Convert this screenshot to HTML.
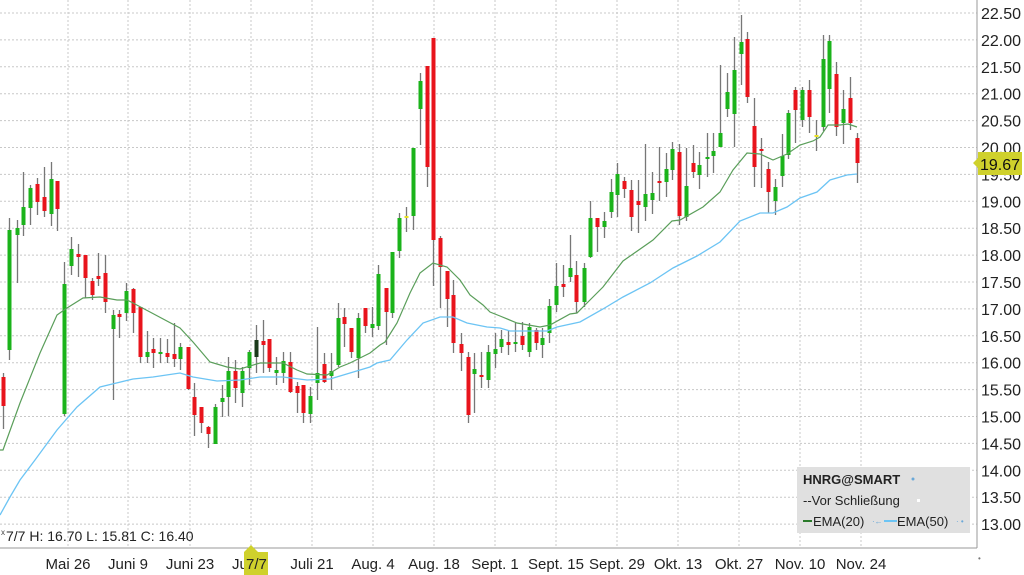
<!DOCTYPE html>
<html><head><meta charset="utf-8"><style>
html,body{margin:0;padding:0;background:#fff;}
svg{display:block;font-family:"Liberation Sans",sans-serif;}
</style></head><body>
<svg id="c" width="1024" height="575" xmlns="http://www.w3.org/2000/svg"></svg>
<script>
var s='';
var ys=[];
// horizontal grid + labels
for(var i=0;i<=19;i++){var y=13+i*26.9;var p=(22.5-i*0.5).toFixed(2);
 s+='<line x1="0" y1="'+y+'" x2="977" y2="'+y+'" stroke="#c8c8c8" stroke-dasharray="2,2"/>';
 s+='<text x="981" y="'+(y+6)+'" font-size="16" fill="#222">'+p+'</text>';}
var xl=[[68,'Mai 26'],[128,'Juni 9'],[190,'Juni 23'],[251,''],[312,'Juli 21'],[373,'Aug. 4'],[434,'Aug. 18'],[495,'Sept. 1'],[556,'Sept. 15'],[617,'Sept. 29'],[678,'Okt. 13'],[739,'Okt. 27'],[800,'Nov. 10'],[861,'Nov. 24']];
xl.forEach(function(a){s+='<line x1="'+a[0]+'" y1="0" x2="'+a[0]+'" y2="548" stroke="#c8c8c8" stroke-dasharray="2,2"/>';
 if(a[1])s+='<text x="'+a[0]+'" y="569" font-size="15" fill="#222" text-anchor="middle">'+a[1]+'</text>';});
s+='<line x1="977" y1="0" x2="977" y2="548" stroke="#999"/><line x1="0" y1="548" x2="977" y2="548" stroke="#999"/>';
// candles: x, bodyTop, bodyBot, wickTop, wickBot, color
var C=[[3,377,406,373,429,'r'],[9,230,350,218,360,'g'],[17,228,235,220,283,'g'],[23,207,225,172,236,'g'],[30,188,208,185,225,'g'],[37,184,202,178,215,'r'],[44,197,211,167,217,'r'],[51,179,214,162,226,'g'],[57,181,209,181,231,'r'],[64,284,414,262,416,'g'],[71,249,266,237,275,'g'],[78,254,257,244,277,'r'],[85,255,278,255,298,'r'],[92,281,295,278,300,'r'],[98,276,279,253,286,'r'],[105,273,302,255,313,'r'],[113,315,329,310,400,'g'],[119,314,317,310,338,'r'],[126,291,313,283,321,'g'],[133,289,313,288,333,'r'],[140,307,357,307,363,'r'],[147,352,357,331,363,'g'],[153,349,353,338,368,'r'],[160,352,353,338,363,'g'],[167,353,357,339,363,'r'],[174,354,359,323,367,'r'],[180,347,359,343,370,'g'],[188,347,389,347,390,'r'],[194,397,415,383,436,'r'],[201,407,423,407,433,'r'],[208,427,434,426,448,'r'],[215,407,444,404,444,'g'],[222,398,402,385,417,'g'],[228,371,397,357,416,'g'],[235,371,388,360,403,'r'],[242,371,393,367,407,'g'],[249,352,368,350,385,'g'],[256,340,357,325,373,'k'],[263,341,345,320,373,'r'],[269,339,368,339,372,'r'],[276,370,373,357,385,'g'],[283,361,373,352,383,'g'],[290,362,392,352,393,'r'],[297,386,393,382,413,'r'],[303,385,413,385,423,'r'],[310,396,414,387,423,'g'],[317,373,383,327,400,'g'],[324,364,382,353,383,'r'],[331,371,376,353,390,'g'],[338,318,365,303,367,'g'],[344,317,324,308,347,'r'],[351,328,352,328,358,'r'],[358,318,358,313,378,'g'],[365,308,326,308,333,'r'],[372,324,328,307,337,'g'],[378,274,326,265,330,'g'],[386,288,312,288,345,'r'],[392,252,313,252,318,'g'],[399,218,251,213,258,'g'],[406,216,218,207,232,'y'],[413,148,216,148,230,'g'],[420,81,109,73,145,'g'],[427,66,167,66,187,'r'],[433,38,240,38,286,'r'],[440,238,267,236,308,'r'],[447,271,299,271,327,'r'],[453,295,343,280,353,'r'],[461,344,353,333,371,'r'],[468,357,415,352,423,'r'],[474,369,374,353,413,'g'],[481,375,377,352,388,'r'],[488,352,380,345,388,'g'],[495,349,354,333,368,'g'],[501,339,347,330,353,'g'],[508,342,345,331,355,'r'],[515,342,343,323,352,'g'],[522,336,345,322,350,'r'],[529,327,352,323,357,'g'],[536,330,343,328,350,'r'],[542,338,345,328,358,'g'],[549,306,333,299,343,'g'],[556,286,305,263,312,'g'],[563,284,287,265,297,'r'],[570,268,277,235,282,'g'],[576,275,302,261,313,'r'],[584,268,302,263,307,'g'],[590,218,257,201,258,'g'],[597,218,227,218,252,'r'],[604,221,227,212,238,'g'],[611,192,212,179,218,'g'],[617,174,195,163,217,'g'],[624,181,189,177,198,'r'],[631,190,217,180,231,'r'],[638,201,205,180,233,'r'],[645,194,207,144,221,'g'],[652,193,200,172,214,'g'],[659,181,182,147,201,'r'],[666,169,182,153,197,'g'],[672,149,170,142,180,'g'],[679,152,216,144,225,'r'],[686,186,217,148,221,'g'],[693,163,172,145,178,'r'],[699,165,175,152,189,'g'],[707,157,158,133,177,'g'],[713,151,156,133,173,'g'],[720,133,147,65,147,'g'],[727,92,109,73,117,'g'],[734,70,114,37,147,'g'],[741,42,54,15,85,'g'],[747,39,97,32,103,'r'],[754,126,167,98,187,'r'],[761,149,151,138,188,'r'],[768,169,192,162,213,'r'],[775,187,201,179,215,'g'],[782,156,176,134,187,'g'],[788,113,155,110,159,'g'],[795,90,110,87,143,'r'],[802,90,120,87,127,'g'],[809,90,117,80,133,'r'],[816,135,136,120,151,'y'],[823,59,127,35,131,'g'],[829,41,89,35,113,'g'],[836,74,127,62,136,'r'],[843,109,123,90,144,'g'],[850,98,123,77,130,'r'],[857,138,163,133,183,'r']];
var col={r:'#e8141c',g:'#1bb31b',k:'#1a3a1a',y:'#e8e020'};
C.forEach(function(c){s+='<line x1="'+(c[0]+.5)+'" y1="'+c[3]+'" x2="'+(c[0]+.5)+'" y2="'+c[4]+'" stroke="#777" stroke-width="1.3"/>';
 var h=Math.max(2,c[2]-c[1]);s+='<rect x="'+(c[0]-1.5)+'" y="'+c[1]+'" width="4" height="'+h+'" fill="'+col[c[5]]+'"/>';});
var G=[[0,450],[3,450],[20,403],[40,353],[57,315],[67,308],[83,298],[100,297],[117,300],[127,300],[133,303],[150,312],[180,328],[193,342],[210,362],[227,367],[240,369],[260,363],[283,363],[297,370],[307,374],[327,375],[340,367],[350,363],[370,353],[380,345],[385,342],[397,323],[410,293],[420,273],[433,263],[447,267],[460,280],[470,295],[483,305],[490,312],[500,316],[517,323],[540,327],[550,325],[570,314],[577,313],[590,300],[603,287],[623,261],[653,240],[672,221],[680,220],[703,207],[720,192],[733,170],[747,153],[760,154],[773,160],[787,154],[800,145],[813,141],[820,137],[828,125],[840,125],[848,124],[857,127]];
var B=[[0,515],[10,497],[20,480],[35,460],[57,430],[77,407],[100,387],[133,379],[153,377],[180,373],[193,377],[217,381],[240,380],[260,377],[283,377],[307,380],[330,379],[340,376],[370,367],[377,363],[390,360],[407,340],[423,323],[440,317],[453,317],[467,323],[487,327],[500,328],[510,331],[547,331],[557,327],[580,322],[603,309],[623,297],[650,283],[673,268],[697,256],[720,242],[740,221],[760,213],[773,213],[787,207],[800,198],[817,192],[830,180],[847,175],[857,174]];
function pl(a,c,w){return '<polyline fill="none" stroke="'+c+'" stroke-width="'+w+'" points="'+a.map(function(p){return p.join(',')}).join(' ')+'"/>';}
s+=pl(B,'#6cc4f4',1.3)+pl(G,'#5a9e5a',1.2);
// price tag
s+='<polygon points="973,163 978,158 978,152 1022,152 1022,175 978,175 978,168" fill="#cfd12c"/>';
s+='<text x="980" y="170" font-size="16" fill="#111">19.67</text>';
// info
s+='<text x="1" y="535" font-size="8" fill="#444">x</text><text x="6" y="541" font-size="14" fill="#222">7/7 H: 16.70 L: 15.81 C: 16.40</text>';
// date highlight
s+='<polygon points="244,552 251,545 258,552 268,552 268,575 244,575" fill="#cfd12c"/>';
s+='<text x="232" y="569" font-size="15" fill="#222">Ju</text><rect x="244" y="552" width="24" height="23" fill="#cfd12c"/><text x="246" y="569" font-size="15" fill="#222">7/7</text>';
// legend
s+='<rect x="797" y="467" width="173" height="66" fill="#e0e0e0"/>';
s+='<text x="803" y="484" font-size="13" font-weight="bold" fill="#222">HNRG@SMART</text><circle cx="913" cy="479" r="1.5" fill="#6aa8d8"/>';
s+='<text x="803" y="505" font-size="13" fill="#222">--Vor Schließung</text><rect x="917" y="499" width="3" height="3" fill="#fff"/>';
s+='<line x1="803" y1="521" x2="812" y2="521" stroke="#2a7a2a" stroke-width="2"/><text x="813" y="526" font-size="13" fill="#222">EMA(20)</text>';
s+='<text x="872" y="524" font-size="8" fill="#6aa8d8">·←</text><line x1="884" y1="521" x2="897" y2="521" stroke="#6cc4f4" stroke-width="2"/><text x="897" y="526" font-size="13" fill="#222">EMA(50)</text><text x="956" y="524" font-size="8" fill="#6aa8d8">· •</text>';
s+='<text x="978" y="561" font-size="8" fill="#777">•</text>';
document.getElementById('c').innerHTML=s;
</script>
</body></html>
